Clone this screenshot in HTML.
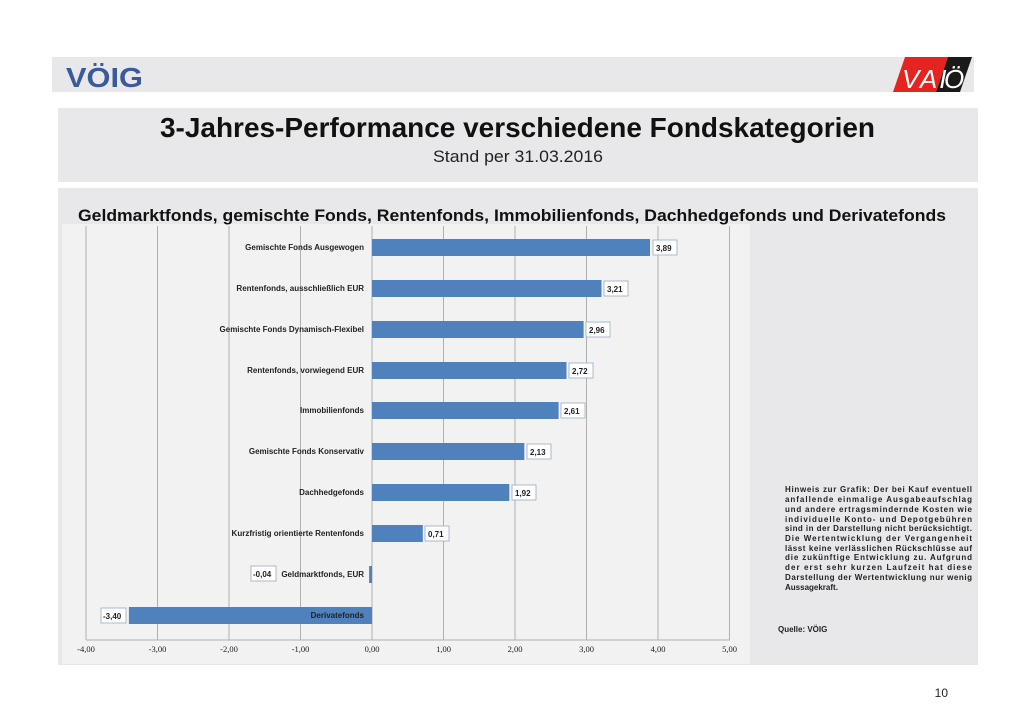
<!DOCTYPE html>
<html><head><meta charset="utf-8"><style>
html,body{margin:0;padding:0;background:#fff;}
svg{display:block}
</style></head><body>
<svg width="1024" height="724" xmlns="http://www.w3.org/2000/svg" font-family="Liberation Sans, sans-serif">
<rect width="1024" height="724" fill="#fff"/>
<rect x="52" y="57" width="922" height="35" fill="#e8e8ea"/>
<text x="66" y="87" font-size="28" font-weight="bold" fill="#3a5a9a" textLength="77" lengthAdjust="spacingAndGlyphs">VÖIG</text>
<polygon points="893,92 905,57 948,57 936,92" fill="#e52420"/>
<polygon points="936,92 948,57 972,57 960,92" fill="#1a1a1a"/>
<text x="902" y="88" font-size="26" font-style="italic" fill="#fff" letter-spacing="2">VAI</text>
<text x="944" y="88" font-size="26" font-style="italic" fill="#fff">Ö</text>
<rect x="58" y="108" width="920" height="74" fill="#e8e8ea"/>
<text x="160" y="137" font-size="28" font-weight="bold" fill="#111" textLength="715" lengthAdjust="spacingAndGlyphs">3-Jahres-Performance verschiedene Fondskategorien</text>
<text x="433" y="162" font-size="17" fill="#222" textLength="170" lengthAdjust="spacingAndGlyphs">Stand per 31.03.2016</text>
<rect x="58" y="188" width="920" height="477" fill="#e8e8ea"/>
<rect x="62" y="224" width="688" height="440" fill="#f2f2f2"/>
<text x="78" y="221" font-size="17" font-weight="bold" fill="#111" textLength="868" lengthAdjust="spacingAndGlyphs">Geldmarktfonds, gemischte Fonds, Rentenfonds, Immobilienfonds,  Dachhedgefonds und Derivatefonds</text>
<g stroke="#b0b0b0" stroke-width="1">
<line x1="86" y1="226" x2="86" y2="640"/><line x1="157.5" y1="226" x2="157.5" y2="640"/><line x1="229" y1="226" x2="229" y2="640"/><line x1="300.5" y1="226" x2="300.5" y2="640"/><line x1="372" y1="226" x2="372" y2="640"/><line x1="443.5" y1="226" x2="443.5" y2="640"/><line x1="515" y1="226" x2="515" y2="640"/><line x1="586.5" y1="226" x2="586.5" y2="640"/><line x1="658" y1="226" x2="658" y2="640"/><line x1="729.5" y1="226" x2="729.5" y2="640"/>
<line x1="86" y1="640" x2="730" y2="640"/>
</g>
<g font-family="Liberation Serif, serif" font-size="8.5" text-anchor="middle" fill="#222">
<text x="86" y="652">-4,00</text><text x="157.5" y="652">-3,00</text><text x="229" y="652">-2,00</text><text x="300.5" y="652">-1,00</text><text x="372" y="652">0,00</text><text x="443.5" y="652">1,00</text><text x="515" y="652">2,00</text><text x="586.5" y="652">3,00</text><text x="658" y="652">4,00</text><text x="729.5" y="652">5,00</text>
</g>
<g fill="#4f81bd">
<rect x="372" y="239" width="278" height="17"/>
<rect x="372" y="280" width="229.5" height="17"/>
<rect x="372" y="321" width="211.6" height="17"/>
<rect x="372" y="362" width="194.5" height="17"/>
<rect x="372" y="402" width="186.6" height="17"/>
<rect x="372" y="443" width="152.3" height="17"/>
<rect x="372" y="484" width="137.3" height="17"/>
<rect x="372" y="525" width="50.8" height="17"/>
<rect x="369.1" y="566" width="2.9" height="17"/>
<rect x="128.9" y="607" width="243.1" height="17"/>
</g>
<g font-size="8" font-weight="bold" text-anchor="end" fill="#222">
<text x="364" y="250">Gemischte Fonds Ausgewogen</text>
<text x="364" y="291">Rentenfonds, ausschließlich EUR</text>
<text x="364" y="332">Gemischte Fonds Dynamisch-Flexibel</text>
<text x="364" y="373">Rentenfonds, vorwiegend EUR</text>
<text x="364" y="413">Immobilienfonds</text>
<text x="364" y="454">Gemischte Fonds Konservativ</text>
<text x="364" y="495">Dachhedgefonds</text>
<text x="364" y="536">Kurzfristig orientierte Rentenfonds</text>
<text x="364" y="577">Geldmarktfonds, EUR</text>
<text x="364" y="618">Derivatefonds</text>
</g>
<g font-size="8" font-weight="bold" fill="#222">
<rect x="653" y="240" width="24" height="15" fill="#fff" stroke="#9ab" stroke-width="0.8"/><text x="656" y="251">3,89</text>
<rect x="604" y="281" width="24" height="15" fill="#fff" stroke="#9ab" stroke-width="0.8"/><text x="607" y="292">3,21</text>
<rect x="586" y="322" width="24" height="15" fill="#fff" stroke="#9ab" stroke-width="0.8"/><text x="589" y="333">2,96</text>
<rect x="569" y="363" width="24" height="15" fill="#fff" stroke="#9ab" stroke-width="0.8"/><text x="572" y="374">2,72</text>
<rect x="561" y="403" width="24" height="15" fill="#fff" stroke="#9ab" stroke-width="0.8"/><text x="564" y="414">2,61</text>
<rect x="527" y="444" width="24" height="15" fill="#fff" stroke="#9ab" stroke-width="0.8"/><text x="530" y="455">2,13</text>
<rect x="512" y="485" width="24" height="15" fill="#fff" stroke="#9ab" stroke-width="0.8"/><text x="515" y="496">1,92</text>
<rect x="425" y="526" width="24" height="15" fill="#fff" stroke="#9ab" stroke-width="0.8"/><text x="428" y="537">0,71</text>
<rect x="251" y="566" width="25" height="15" fill="#fff" stroke="#9ab" stroke-width="0.8"/><text x="253" y="577">-0,04</text>
<rect x="101" y="608" width="25" height="15" fill="#fff" stroke="#9ab" stroke-width="0.8"/><text x="103" y="619">-3,40</text>
</g>
<g font-size="8" font-weight="bold" fill="#222">
<text x="785" y="492" textLength="187">Hinweis zur Grafik: Der bei Kauf eventuell</text>
<text x="785" y="502" textLength="187">anfallende einmalige Ausgabeaufschlag</text>
<text x="785" y="512" textLength="187">und andere ertragsmindernde Kosten wie</text>
<text x="785" y="522" textLength="187">individuelle Konto- und Depotgebühren</text>
<text x="785" y="531" textLength="187">sind in der Darstellung nicht berücksichtigt.</text>
<text x="785" y="541" textLength="187">Die Wertentwicklung der Vergangenheit</text>
<text x="785" y="551" textLength="187">lässt keine verlässlichen Rückschlüsse auf</text>
<text x="785" y="560" textLength="187">die zukünftige Entwicklung zu. Aufgrund</text>
<text x="785" y="570" textLength="187">der erst sehr kurzen Laufzeit hat diese</text>
<text x="785" y="580" textLength="187">Darstellung der Wertentwicklung nur wenig</text>
<text x="785" y="590">Aussagekraft.</text>
<text x="778" y="632">Quelle: VÖIG</text>
</g>
<text x="948" y="697" font-size="12" text-anchor="end" fill="#222">10</text>
</svg>
</body></html>
